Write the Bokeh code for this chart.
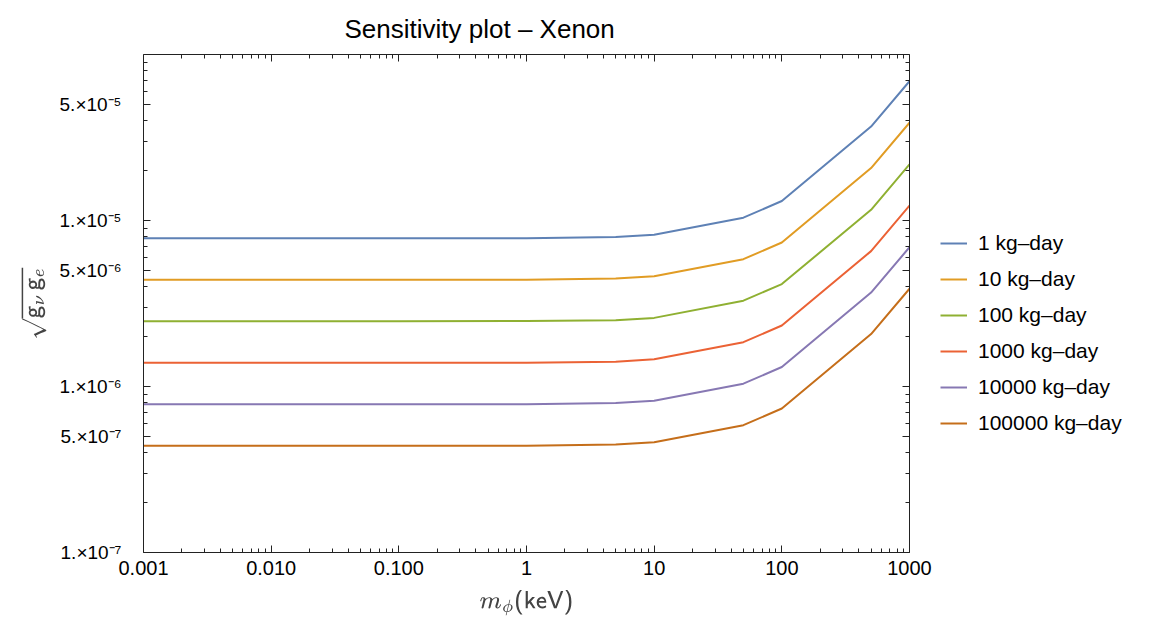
from bokeh.plotting import figure
from bokeh.models import FixedTicker, LogAxis, Legend, LegendItem, Range1d
from bokeh.layouts import row
from bokeh.embed import file_html
from bokeh.resources import INLINE

# ---- data ----
mass_kev = [0.001, 0.01, 0.1, 1, 5, 10, 50, 100, 500, 1000]
exp_1 = [7.82e-6, 7.82e-6, 7.82e-6, 7.83e-6, 7.95e-6, 8.2e-6, 1.04e-5, 1.31e-5, 3.68e-5, 6.9e-5]
exp_10 = [4.40e-6, 4.40e-6, 4.40e-6, 4.40e-6, 4.47e-6, 4.61e-6, 5.85e-6, 7.37e-6, 2.07e-5, 3.88e-5]
exp_100 = [2.47e-6, 2.47e-6, 2.47e-6, 2.48e-6, 2.51e-6, 2.59e-6, 3.29e-6, 4.14e-6, 1.16e-5, 2.18e-5]
exp_1000 = [1.39e-6, 1.39e-6, 1.39e-6, 1.39e-6, 1.41e-6, 1.46e-6, 1.85e-6, 2.33e-6, 6.54e-6, 1.23e-5]
exp_10000 = [7.82e-7, 7.82e-7, 7.82e-7, 7.83e-7, 7.95e-7, 8.2e-7, 1.04e-6, 1.31e-6, 3.68e-6, 6.9e-6]
exp_100000 = [4.40e-7, 4.40e-7, 4.40e-7, 4.40e-7, 4.47e-7, 4.61e-7, 5.85e-7, 7.37e-7, 2.07e-6, 3.88e-6]

series_labels = ["1 kg\u2013day", "10 kg\u2013day", "100 kg\u2013day", "1000 kg\u2013day",
                 "10000 kg\u2013day", "100000 kg\u2013day"]
series_values = [exp_1, exp_10, exp_100, exp_1000, exp_10000, exp_100000]
colors = ["#5E81B5", "#E19C24", "#8FB032", "#EB6235", "#8778B3", "#C56E1A"]

x_ticks = [0.001, 0.01, 0.1, 1, 10, 100, 1000]
x_tick_labels = ["0.001", "0.010", "0.100", "1", "10", "100", "1000"]
y_ticks = [1e-7, 5e-7, 1e-6, 5e-6, 1e-5, 5e-5]
y_tick_labels = ["1.\u00d710\u207b\u2077", "5.\u00d710\u207b\u2077", "1.\u00d710\u207b\u2076",
                 "5.\u00d710\u207b\u2076", "1.\u00d710\u207b\u2075", "5.\u00d710\u207b\u2075"]

title_text = "Sensitivity plot \u2013 Xenon"
x_label = r"$$m_{\phi}\mathsf{(keV)}$$"
y_label = r"$$\sqrt{\mathsf{g}_{\nu}\,\mathsf{g}_{e}}$$"

FONT = "Liberation Sans"

def minor_log(lo_exp, hi_exp):
    out = []
    for e in range(lo_exp, hi_exp):
        for m in range(2, 10):
            out.append(m * 10.0 ** e)
    return out

x_minor = minor_log(-3, 3)
y_minor = minor_log(-7, -4)

RIGHT_PAD = 30
p = figure(height=628, x_axis_type="log", y_axis_type="log",
           x_range=Range1d(0.001, 1000), y_range=Range1d(1e-7, 1e-4),
           output_backend="svg", toolbar_location=None,
           min_border_left=143, min_border_right=RIGHT_PAD, min_border_top=54, min_border_bottom=76)
p.frame_width = 766
p.frame_height = 498
p.xgrid.visible = False
p.ygrid.visible = False
p.outline_line_color = None
p.background_fill_color = "white"
p.border_fill_color = "white"

for vals, c in zip(series_values, colors):
    p.line(mass_kev, vals, line_color=c, line_width=2)

def style_axis(ax, ticks, minor, labels):
    ax.ticker = FixedTicker(ticks=ticks, minor_ticks=minor)
    ax.axis_line_color = "#222222"
    ax.axis_line_width = 1
    ax.major_tick_in = 7
    ax.major_tick_out = 0
    ax.minor_tick_in = 4
    ax.minor_tick_out = 0
    ax.major_tick_line_color = "#222222"
    ax.minor_tick_line_color = "#222222"
    ax.major_label_text_font = FONT
    ax.major_label_text_font_size = "20px"
    ax.major_label_text_color = "black"
    ax.major_label_overrides = {float(t): l for t, l in zip(ticks, labels)}

xa = p.xaxis[0]
ya = p.yaxis[0]
style_axis(xa, x_ticks, x_minor, x_tick_labels)
style_axis(ya, y_ticks, y_minor, y_tick_labels)
ya.major_label_text_font_size = "19px"
xa.major_label_standoff = 8
ya.major_label_standoff = 22
xa.axis_label = x_label
xa.axis_label_text_font_size = "20px"
xa.axis_label_standoff = 12
ya.axis_label = y_label
ya.axis_label_text_font_size = "20px"
ya.axis_label_standoff = 10

top_ax = LogAxis()
style_axis(top_ax, x_ticks, x_minor, [""] * len(x_ticks))
top_ax.major_label_standoff = 0
p.add_layout(top_ax, "above")

right_ax = LogAxis()
style_axis(right_ax, y_ticks, y_minor, [""] * len(y_ticks))
right_ax.major_label_standoff = 0
p.add_layout(right_ax, "right")

p.title.text = title_text
p.title.text_font = FONT
p.title.text_font_size = "26px"
p.title.text_font_style = "normal"
p.title.text_color = "black"
p.title.align = "left"
p.title.offset = 201
p.title.standoff = 22

# ---- legend panel (second figure to the right of the plot) ----
leg = figure(width=1153 - (143 + 766 + RIGHT_PAD), height=628, x_range=(0, 1), y_range=(0, 1),
             output_backend="svg", toolbar_location=None, min_border=0)
leg.axis.visible = False
leg.xgrid.visible = False
leg.ygrid.visible = False
leg.outline_line_color = None
leg.border_fill_color = "white"
leg_items = []
for lab, c in zip(series_labels, colors):
    # sample glyph only: its points lie outside this panel's range
    lr = leg.line([-2, -1], [-2, -1], line_color=c, line_width=2)
    leg_items.append(LegendItem(label=lab, renderers=[lr]))

legend = Legend(items=leg_items, location=(1, 117), orientation="vertical",
                label_text_font=FONT, label_text_font_size="21px", label_text_color="black",
                glyph_width=27, glyph_height=24, label_height=24, spacing=12,
                label_standoff=11, padding=0, margin=0,
                border_line_color=None, background_fill_alpha=0)
leg.add_layout(legend, "center")

open("out.html", "w").write(file_html(row(p, leg), INLINE))
